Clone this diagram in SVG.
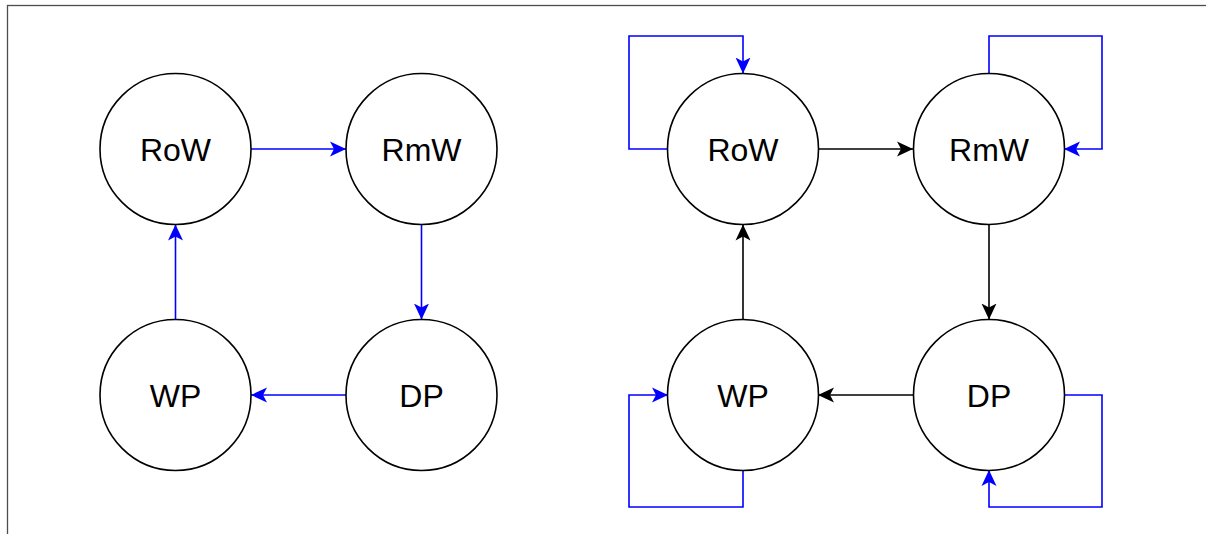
<svg xmlns="http://www.w3.org/2000/svg" width="1206" height="534" viewBox="0 0 1206 534">
  <style>
    .node circle { fill: #ffffff; stroke: #000000; stroke-width: 1.6; }
    .node text { font-family: "Liberation Sans", Arial, sans-serif; font-size: 32px; fill: #000000; text-anchor: middle; }
    .blue { fill: none; stroke: #0000ff; stroke-width: 1.6; }
    .black { fill: none; stroke: #000000; stroke-width: 1.6; }
    .frame { fill: none; stroke: #4d4d4d; stroke-width: 1.3; }
  </style>
  <defs>
    <marker id="arrowBlue" markerUnits="userSpaceOnUse" markerWidth="18" markerHeight="18" viewBox="0 0 18 18" refX="16" refY="8" orient="auto">
      <path d="M0,0.5 L16,8 L0,15.5 L4,8 Z" fill="#0000ff"/>
    </marker>
    <marker id="arrowBlack" markerUnits="userSpaceOnUse" markerWidth="18" markerHeight="18" viewBox="0 0 18 18" refX="16" refY="8" orient="auto">
      <path d="M0,0.5 L16,8 L0,15.5 L4,8 Z" fill="#000000"/>
    </marker>
  </defs>

  <rect class="frame" x="7.5" y="5.5" width="1300" height="600"/>

  <!-- connectors -->
  <g id="connectors">
    <!-- left cycle -->
    <path class="blue" d="M251,149 L346,149" marker-end="url(#arrowBlue)"/>
    <path class="blue" d="M421.5,224.5 L421.5,319.5" marker-end="url(#arrowBlue)"/>
    <path class="blue" d="M346,395 L251,395" marker-end="url(#arrowBlue)"/>
    <path class="blue" d="M175.5,320 L175.5,224.5" marker-end="url(#arrowBlue)"/>
    <!-- right cycle -->
    <path class="black" d="M818,149 L913,149" marker-end="url(#arrowBlack)"/>
    <path class="black" d="M989,224.5 L989,319.5" marker-end="url(#arrowBlack)"/>
    <path class="black" d="M913,395 L818,395" marker-end="url(#arrowBlack)"/>
    <path class="black" d="M743,320 L743,224.5" marker-end="url(#arrowBlack)"/>
    <!-- self loops -->
    <path class="blue" d="M668,149 L629,149 L629,36 L743,36 L743,73.5" marker-end="url(#arrowBlue)"/>
    <path class="blue" d="M989,73.5 L989,36 L1102,36 L1102,149 L1064,149" marker-end="url(#arrowBlue)"/>
    <path class="blue" d="M743,470 L743,507 L629,507 L629,395 L668,395" marker-end="url(#arrowBlue)"/>
    <path class="blue" d="M1064,395 L1102,395 L1102,507 L989,507 L989,470" marker-end="url(#arrowBlue)"/>
  </g>

  <!-- left cycle nodes -->
  <g id="row-left" class="node">
    <circle cx="175.5" cy="149" r="75.5"/>
    <text x="175.5" y="160.5">RoW</text>
  </g>
  <g id="rmw-left" class="node">
    <circle cx="421.5" cy="149" r="75.5"/>
    <text x="421.5" y="160.5">RmW</text>
  </g>
  <g id="wp-left" class="node">
    <circle cx="175.5" cy="395" r="75.5"/>
    <text x="175.5" y="406.5">WP</text>
  </g>
  <g id="dp-left" class="node">
    <circle cx="421.5" cy="395" r="75.5"/>
    <text x="421.5" y="406.5">DP</text>
  </g>

  <!-- right cycle nodes -->
  <g id="row-right" class="node">
    <circle cx="743" cy="149" r="75.5"/>
    <text x="743" y="160.5">RoW</text>
  </g>
  <g id="rmw-right" class="node">
    <circle cx="989" cy="149" r="75.5"/>
    <text x="989" y="160.5">RmW</text>
  </g>
  <g id="wp-right" class="node">
    <circle cx="743" cy="395" r="75.5"/>
    <text x="743" y="406.5">WP</text>
  </g>
  <g id="dp-right" class="node">
    <circle cx="989" cy="395" r="75.5"/>
    <text x="989" y="406.5">DP</text>
  </g>
</svg>
